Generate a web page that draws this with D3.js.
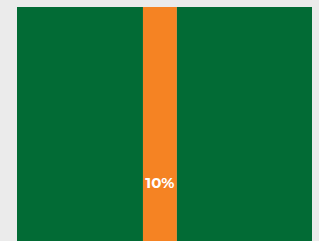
<!DOCTYPE html>
<html>
<head>
    <meta charset="utf-8" />
    <title>share bar</title>
    <script src="https://d3js.org/d3.v7.min.js"></script>
    <style>
        html, body { margin: 0; padding: 0; background: #ebebeb; }
        svg { display: block; }
    </style>
</head>
<body>
    <svg width="319" height="241"></svg>
<script>
    // segments along the bar, in percent of full width
    var segments = ['left', 'highlight', 'right'];
    var shares = [42.7, 11.5, 45.8];
    var colors = ['#026b35', '#f58323', '#026b35'];
    var labels = ['', '10%', ''];

    var svg = d3.select('svg');

    var x = d3.scaleLinear().domain([0, 100]).range([17, 312]);

    var starts = d3.cumsum([0].concat(shares.slice(0, -1)));
    var data = segments.map(function(s, i) {
        return { name: s, start: starts[i], value: shares[i], color: colors[i], label: labels[i] };
    });

    var g = svg.append('g');

    g.selectAll('rect')
        .data(data)
        .enter()
        .append('rect')
        .attr('x', function(d) { return x(d.start); })
        .attr('y', 7)
        .attr('width', function(d) { return x(d.start + d.value) - x(d.start); })
        .attr('height', 241)
        .attr('fill', function(d) { return d.color; });

    g.selectAll('text')
        .data(data.filter(function(d) { return d.label; }))
        .enter()
        .append('text')
        .attr('x', function(d) { return x(d.start + d.value / 2); })
        .attr('y', 188)
        .attr('text-anchor', 'middle')
        .style('font-family', 'Montserrat, "Open Sans", sans-serif')
        .style('font-weight', 'bold')
        .style('font-size', '15px')
        .attr('fill', '#ffffff')
        .text(function(d) { return d.label; });
</script>
</body>
</html>
